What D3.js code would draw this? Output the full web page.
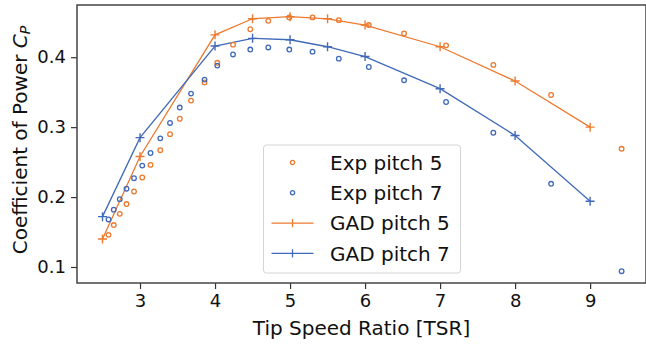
<!DOCTYPE html>
<html>
<head>
<meta charset="utf-8">
<script src="https://cdn.jsdelivr.net/npm/d3@7"></script>
<style>
  body { margin: 0; background: #fff; }
  svg { display: block; font-family: "DejaVu Sans", sans-serif; }
</style>
</head>
<body>
<div id="chart"></div>
<script>
// experimental points (shared TSR positions)
var expX = [2.58, 2.65, 2.73, 2.82, 2.92, 3.03, 3.14, 3.27, 3.40, 3.53, 3.68, 3.86, 4.03,
            4.24, 4.47, 4.71, 4.99, 5.30, 5.65, 6.05, 6.52, 7.08, 7.71, 8.48, 9.42];
var exp5 = [0.146, 0.160, 0.176, 0.190, 0.208, 0.228, 0.246, 0.267, 0.290, 0.312, 0.338, 0.364, 0.392,
            0.418, 0.440, 0.452, 0.457, 0.457, 0.453, 0.446, 0.434, 0.417, 0.389, 0.346, 0.269];
var exp7 = [0.168, 0.182, 0.197, 0.212, 0.227, 0.245, 0.263, 0.284, 0.306, 0.328, 0.348, 0.368, 0.388,
            0.404, 0.411, 0.414, 0.411, 0.408, 0.398, 0.386, 0.367, 0.336, 0.292, 0.219, 0.094];

// GAD model
var gadX = [2.5, 3, 4, 4.5, 5, 5.5, 6, 7, 8, 9];
var gad5 = [0.140, 0.258, 0.432, 0.455, 0.458, 0.455, 0.446, 0.415, 0.366, 0.300];
var gad7 = [0.172, 0.285, 0.416, 0.427, 0.425, 0.415, 0.401, 0.355, 0.288, 0.194];

var xTicks = [3, 4, 5, 6, 7, 8, 9];
var yTicks = [0.1, 0.2, 0.3, 0.4];

var orange = "#ec7a2f";
var blue = "#4169b9";

var W = 646, H = 344;
var pLeft = 77, pTop = 5, pRight = 646, pBottom = 283;

var svg = d3.select("#chart").append("svg")
  .attr("width", W).attr("height", H);

var x = d3.scaleLinear().domain([2.16, 9.745]).range([pLeft, pRight]);
var y = d3.scaleLinear().domain([0.0771, 0.4747]).range([pBottom, pTop]);

function zip(xs, ys) { return xs.map(function(v, i) { return [v, ys[i]]; }); }

var line = d3.line()
  .x(function(d) { return x(d[0]); })
  .y(function(d) { return y(d[1]); });

// GAD lines
[[gad5, orange], [gad7, blue]].forEach(function(s) {
  var pts = zip(gadX, s[0]);
  svg.append("path")
    .attr("d", line(pts))
    .attr("fill", "none")
    .attr("stroke", s[1])
    .attr("stroke-width", 1.3);
  svg.append("g").selectAll("path")
    .data(pts)
    .enter()
    .append("path")
    .attr("d", function(d) {
      var cx = x(d[0]), cy = y(d[1]), r = 4.5;
      return "M" + (cx - r) + "," + cy + "H" + (cx + r) + "M" + cx + "," + (cy - r) + "V" + (cy + r);
    })
    .attr("stroke", s[1])
    .attr("stroke-width", 1.4);
});

// experimental circles
[[exp5, orange], [exp7, blue]].forEach(function(s) {
  svg.append("g").selectAll("circle")
    .data(zip(expX, s[0]))
    .enter()
    .append("circle")
    .attr("cx", function(d) { return x(d[0]); })
    .attr("cy", function(d) { return y(d[1]); })
    .attr("r", 2.3)
    .attr("fill", "none")
    .attr("stroke", s[1])
    .attr("stroke-width", 1.3);
});

// axes
var xAxis = svg.append("g")
  .attr("transform", "translate(0," + pBottom + ")")
  .call(d3.axisBottom(x).tickValues(xTicks).tickSize(6).tickPadding(5).tickFormat(d3.format("d")));
var yAxis = svg.append("g")
  .attr("transform", "translate(" + pLeft + ",0)")
  .call(d3.axisLeft(y).tickValues(yTicks).tickSize(6).tickPadding(5).tickFormat(d3.format(".1f")));

[xAxis, yAxis].forEach(function(a) {
  a.select(".domain").remove();
  a.selectAll(".tick line").attr("stroke", "#333").attr("stroke-width", 1.2);
  a.selectAll(".tick text")
    .attr("fill", "#111")
    .attr("font-size", "18px")
    .attr("font-family", "DejaVu Sans");
});

// frame
svg.append("rect")
  .attr("x", pLeft).attr("y", pTop)
  .attr("width", pRight - pLeft).attr("height", pBottom - pTop)
  .attr("fill", "none")
  .attr("stroke", "#444")
  .attr("stroke-width", 1.5);

// axis labels
svg.append("text")
  .attr("x", (pLeft + pRight) / 2)
  .attr("y", 335)
  .attr("text-anchor", "middle")
  .attr("font-size", "20px")
  .attr("fill", "#111")
  .text("Tip Speed Ratio [TSR]");

var yl = svg.append("text")
  .attr("transform", "translate(27,140) rotate(-90)")
  .attr("text-anchor", "middle")
  .attr("font-size", "20px")
  .attr("fill", "#111");
yl.append("tspan").text("Coefficient of Power ");
yl.append("tspan").attr("font-style", "italic").text("C");
yl.append("tspan").attr("font-style", "italic").attr("font-size", "14px").attr("dy", 3).text("P");

// legend
var legendItems = [
  { label: "Exp pitch 5", color: orange, type: "circle" },
  { label: "Exp pitch 7", color: blue, type: "circle" },
  { label: "GAD pitch 5", color: orange, type: "line" },
  { label: "GAD pitch 7", color: blue, type: "line" }
];

var lg = svg.append("g");
lg.append("rect")
  .attr("x", 263.5).attr("y", 145)
  .attr("width", 197).attr("height", 128)
  .attr("rx", 3)
  .attr("fill", "#fff")
  .attr("fill-opacity", 0.85)
  .attr("stroke", "#d4d4d4")
  .attr("stroke-width", 1);

var rows = lg.selectAll("g.row")
  .data(legendItems)
  .enter()
  .append("g")
  .attr("transform", function(d, i) { return "translate(0," + (162.5 + i * 30.3) + ")"; });

rows.each(function(d) {
  var g = d3.select(this);
  if (d.type === "circle") {
    g.append("circle").attr("cx", 292.5).attr("cy", 0).attr("r", 2.1)
      .attr("fill", "none").attr("stroke", d.color).attr("stroke-width", 1.3);
  } else {
    g.append("line").attr("x1", 271.5).attr("x2", 313.5).attr("y1", 0).attr("y2", 0)
      .attr("stroke", d.color).attr("stroke-width", 1.3);
    g.append("line").attr("x1", 292.5).attr("x2", 292.5).attr("y1", -4).attr("y2", 4)
      .attr("stroke", d.color).attr("stroke-width", 1.3);
  }
  g.append("text")
    .attr("x", 330).attr("y", 0)
    .attr("dy", "0.36em")
    .attr("font-size", "20px")
    .attr("fill", "#111")
    .text(d.label);
});
</script>
</body>
</html>
